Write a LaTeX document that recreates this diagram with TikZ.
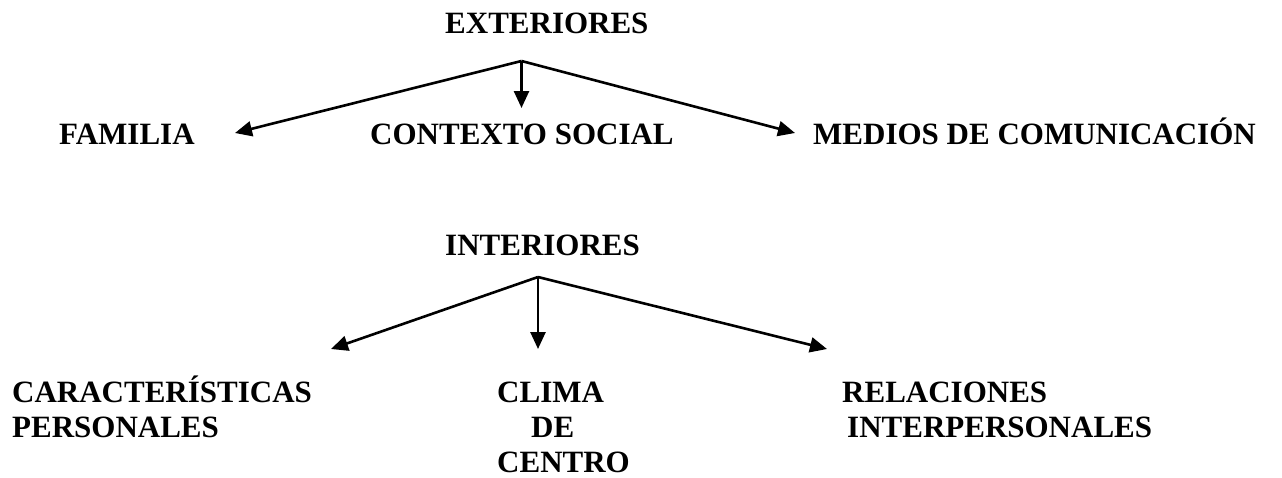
\documentclass[tikz,border=0pt]{standalone}
\usepackage{fontspec}
\setmainfont{Liberation Serif}
\usetikzlibrary{arrows.meta}
\begin{document}
\begin{tikzpicture}[x=1pt,y=-1pt,
  lbl/.style={anchor=base west,inner sep=0pt,font=\fontsize{31}{35.5}\selectfont\bfseries},
  conn/.style={line width=2.6pt,-{Triangle[length=17pt,width=15pt]}}]
\useasboundingbox (0,0) rectangle (1282,477);
% top group
\node[lbl] (ext) at (445,33) {EXTERIORES};
\node[lbl] (fam) at (59,144) {FAMILIA};
\node[lbl] (ctx) at (370,144) {CONTEXTO SOCIAL};
\node[lbl] (med) at (813,144) {MEDIOS DE COMUNICACIÓN};
\coordinate (a1) at (521.5,61);
\coordinate (t1l) at (235,133);
\coordinate (t1m) at (521.5,108);
\coordinate (t1r) at (795,133);
\draw[conn] (a1) -- (t1l);
\draw[conn] (a1) -- (t1m);
\draw[conn] (a1) -- (t1r);
% bottom group
\node[lbl] (int) at (445,255) {INTERIORES};
\node[lbl] (car) at (12,402) {CARACTERÍSTICAS};
\node[lbl] (per) at (12,437) {PERSONALES};
\node[lbl] (cli) at (497,402) {CLIMA};
\node[lbl] (de) at (531,437) {DE};
\node[lbl] (cen) at (497,472) {CENTRO};
\node[lbl] (rel) at (842,402) {RELACIONES};
\node[lbl] (inp) at (847,437) {INTERPERSONALES};
\coordinate (a2) at (538,277);
\coordinate (t2l) at (331,349);
\coordinate (t2m) at (538,349);
\coordinate (t2r) at (827,349);
\draw[conn] (a2) -- (t2l);
\draw[conn] (a2) -- (t2m);
\draw[conn] (a2) -- (t2r);
\end{tikzpicture}
\end{document}
